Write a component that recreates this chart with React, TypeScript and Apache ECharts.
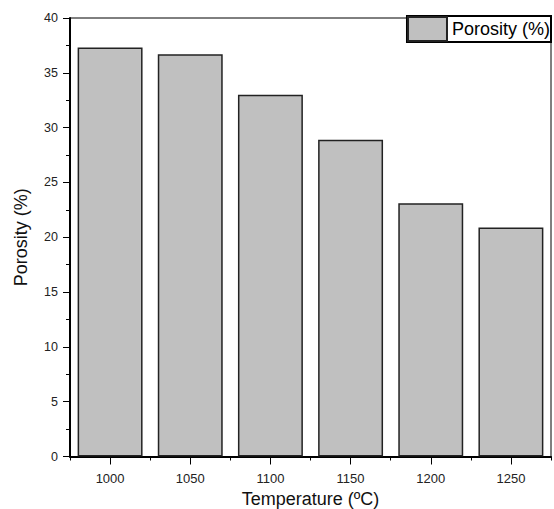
import React, { useEffect, useRef } from "react";
import * as echarts from "echarts";

const categories = ["1000", "1050", "1100", "1150", "1200", "1250"];
const porosity = [37.3, 36.7, 33.0, 28.9, 23.1, 20.9];
const seriesName = "Porosity (%)";
const xTitle = "Temperature (ºC)";
const yTitle = "Porosity (%)";

export default function App() {
  const ref = useRef<HTMLDivElement>(null);
  useEffect(() => {
    if (!ref.current) return;
    const chart = echarts.init(ref.current, undefined, { renderer: "svg" });
    const font = "'Liberation Sans', Arial, sans-serif";
    chart.setOption({
      animation: false,
      backgroundColor: "#fff",
      grid: {
        left: 70,
        right: 3,
        top: 18,
        bottom: 52.5,
        outerBoundsMode: "none",
        containLabel: false,
        show: true,
        borderColor: "#000",
        borderWidth: 1,
        backgroundColor: "transparent",
      },
      legend: {
        show: true,
        right: 3,
        top: 16,
        padding: [0, 1, 0, 0],
        itemWidth: 39,
        itemHeight: 24,
        itemGap: 0,
        backgroundColor: "#fff",
        borderColor: "#000",
        borderWidth: 2,
        borderRadius: 0,
        icon: "rect",
        textStyle: { fontSize: 18, color: "#000", fontFamily: font, padding: [0, 0, 0, 0] },
        data: [seriesName],
      },
      xAxis: [
        {
          type: "category",
          data: categories,
          position: "bottom",
          name: xTitle,
          nameLocation: "middle",
          nameGap: 33,
          nameTextStyle: { fontSize: 18, color: "#111", fontFamily: font },
          axisLine: { show: true, lineStyle: { color: "#000", width: 2 } },
          axisTick: { show: true, alignWithLabel: true, length: 8, lineStyle: { color: "#000", width: 1 } },
          axisLabel: { fontSize: 13, color: "#222", margin: 15, fontFamily: font },
          splitLine: { show: false },
        },
        {
          type: "category",
          data: categories,
          position: "bottom",
          axisLine: { show: false },
          axisTick: { show: true, length: 4, lineStyle: { color: "#000", width: 1 } },
          axisLabel: { show: false },
          splitLine: { show: false },
        },
      ],
      yAxis: {
        type: "value",
        min: 0,
        max: 40,
        interval: 5,
        name: yTitle,
        nameLocation: "middle",
        nameGap: 40,
        nameTextStyle: { fontSize: 18, color: "#111", fontFamily: font },
        axisLine: { show: true, lineStyle: { color: "#000", width: 2 } },
        axisTick: { show: true, length: 7, lineStyle: { color: "#000", width: 1 } },
        minorTick: { show: true, splitNumber: 2, length: 4, lineStyle: { color: "#000", width: 1 } },
        axisLabel: { fontSize: 12.5, color: "#222", margin: 12, fontFamily: font },
        splitLine: { show: false },
        minorSplitLine: { show: false },
      },
      series: [
        {
          name: seriesName,
          type: "bar",
          data: porosity,
          xAxisIndex: 0,
          barWidth: "81%",
          itemStyle: { color: "#c0c0c0", borderColor: "#222", borderWidth: 1.5 },
        },
      ],
    });
    return () => chart.dispose();
  }, []);
  return <div ref={ref} style={{ width: 554, height: 509, position: "absolute", left: 0, top: 0 }} />;
}
